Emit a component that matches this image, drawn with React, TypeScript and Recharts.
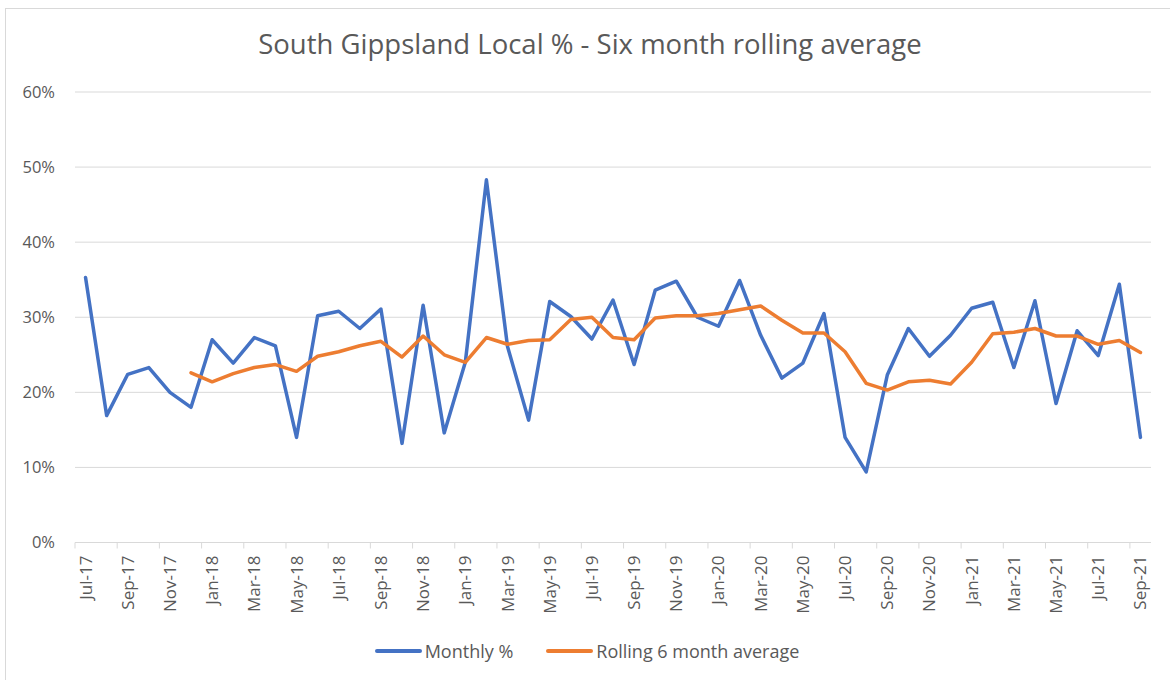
import React from 'react';
import { LineChart, Line, XAxis, YAxis, CartesianGrid } from 'recharts';

const months = [
  'Jul-17', 'Aug-17', 'Sep-17', 'Oct-17', 'Nov-17', 'Dec-17',
  'Jan-18', 'Feb-18', 'Mar-18', 'Apr-18', 'May-18', 'Jun-18', 'Jul-18', 'Aug-18', 'Sep-18', 'Oct-18', 'Nov-18', 'Dec-18',
  'Jan-19', 'Feb-19', 'Mar-19', 'Apr-19', 'May-19', 'Jun-19', 'Jul-19', 'Aug-19', 'Sep-19', 'Oct-19', 'Nov-19', 'Dec-19',
  'Jan-20', 'Feb-20', 'Mar-20', 'Apr-20', 'May-20', 'Jun-20', 'Jul-20', 'Aug-20', 'Sep-20', 'Oct-20', 'Nov-20', 'Dec-20',
  'Jan-21', 'Feb-21', 'Mar-21', 'Apr-21', 'May-21', 'Jun-21', 'Jul-21', 'Aug-21', 'Sep-21',
];

const monthly = [
  35.3, 16.9, 22.4, 23.3, 20.0, 18.0,
  27.0, 23.9, 27.3, 26.2, 14.0, 30.2, 30.8, 28.5, 31.1, 13.2, 31.6, 14.6,
  24.0, 48.3, 26.1, 16.3, 32.1, 30.1, 27.1, 32.3, 23.7, 33.6, 34.8, 30.0,
  28.8, 34.9, 27.6, 21.9, 23.9, 30.5, 14.0, 9.4, 22.3, 28.5, 24.8, 27.6,
  31.2, 32.0, 23.3, 32.2, 18.5, 28.2, 24.9, 34.4, 14.0,
];

const rolling = [
  null, null, null, null, null, 22.6,
  21.4, 22.5, 23.3, 23.7, 22.8, 24.8, 25.4, 26.2, 26.8, 24.7, 27.5, 25.0,
  24.0, 27.3, 26.4, 26.9, 27.0, 29.7, 30.0, 27.3, 27.0, 29.9, 30.2, 30.2,
  30.5, 31.0, 31.5, 29.6, 27.9, 27.9, 25.4, 21.2, 20.3, 21.4, 21.6, 21.1,
  24.0, 27.8, 28.0, 28.5, 27.5, 27.5, 26.4, 26.9, 25.3,
];

const yTicks = [0, 10, 20, 30, 40, 50, 60];

const data = months.map((m, i) => ({ month: m, monthly: monthly[i], rolling: rolling[i] }));

const BLUE = '#4472C4';
const ORANGE = '#ED7D31';
const TEXT = '#595959';
const FONT = '"Open Sans", "Noto Sans", sans-serif';

const PLOT_LEFT = 75;
const PLOT_RIGHT = 1151;
const STEP = (PLOT_RIGHT - PLOT_LEFT) / months.length;

const MonthTick = (props: any) => {
  const { x, y, payload } = props;
  const tx = x - STEP / 2;
  return (
    <g>
      <line x1={tx} y1={y} x2={tx} y2={y + 6} stroke="#d9d9d9" strokeWidth={1} />
      <text
        transform={`translate(${x + 6},${y + 13}) rotate(-90)`}
        textAnchor="end"
        fill={TEXT}
        fontSize={17}
        fontFamily={FONT}
      >
        {payload.value}
      </text>
    </g>
  );
};

const App = () => {
  return (
    <div style={{ position: 'absolute', left: 0, top: 0, width: 1170, height: 680, overflow: 'hidden', background: '#fff', fontFamily: FONT }}>
      <div style={{ position: 'absolute', left: 5, top: 8, width: 1300, height: 800, border: '1px solid #d9d9d9' }} />
      <div style={{ position: 'absolute', left: 0, top: 25, width: 1180, textAlign: 'center', fontSize: 27.5, color: TEXT }}>
        South Gippsland Local % - Six month rolling average
      </div>
      <LineChart
        width={1170}
        height={680}
        data={data}
        margin={{ top: 92, right: 1170 - PLOT_RIGHT, left: 0, bottom: 47 }}
        style={{ position: 'absolute', left: 0, top: 0 }}
      >
        <CartesianGrid vertical={false} stroke="#d9d9d9" strokeWidth={1} />
        <XAxis
          dataKey="month"
          interval={1}
          height={90.5}
          padding={{ left: STEP / 2, right: STEP / 2 }}
          tickLine={false}
          tickSize={0}
          tickMargin={0}
          axisLine={{ stroke: '#d9d9d9' }}
          tick={<MonthTick />}
        />
        <YAxis
          width={PLOT_LEFT}
          domain={[0, 60]}
          ticks={yTicks}
          tickFormatter={(v: number) => `${v}%`}
          axisLine={false}
          tickLine={false}
          tickSize={0}
          tickMargin={20}
          tick={{ fill: TEXT, fontSize: 16.5, fontFamily: FONT }}
        />
        <Line
          dataKey="monthly"
          stroke={BLUE}
          strokeWidth={3.5}
          strokeLinejoin="round"
          strokeLinecap="round"
          dot={false}
          isAnimationActive={false}
        />
        <Line
          dataKey="rolling"
          stroke={ORANGE}
          strokeWidth={3.5}
          strokeLinejoin="round"
          strokeLinecap="round"
          dot={false}
          isAnimationActive={false}
        />
      </LineChart>
      <div style={{ position: 'absolute', top: 639, left: 0, width: 1170, display: 'flex', justifyContent: 'center', alignItems: 'center', fontSize: 18, color: TEXT, paddingLeft: 2 }}>
        <span style={{ display: 'inline-block', width: 47, height: 4, borderRadius: 2, background: BLUE, marginRight: 3 }} />
        <span style={{ marginRight: 33 }}>Monthly %</span>
        <span style={{ display: 'inline-block', width: 47, height: 4, borderRadius: 2, background: ORANGE, marginRight: 3 }} />
        <span>Rolling 6 month average</span>
      </div>
    </div>
  );
};

export default App;
